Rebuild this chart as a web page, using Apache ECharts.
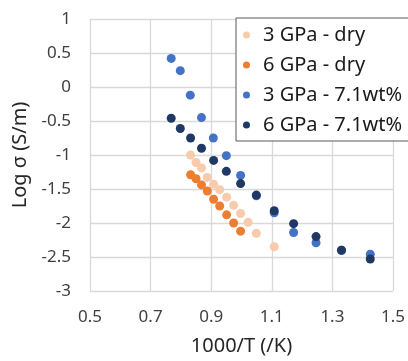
<!DOCTYPE html>
<html><head><meta charset="utf-8">
<script src="https://cdn.jsdelivr.net/npm/echarts@6/dist/echarts.min.js"></script>
<style>html,body{margin:0;padding:0;background:#fff}#c{width:408px;height:361px}</style>
</head><body><div id="c"></div>
<script>
const seriesNames = ['3 GPa - dry', '6 GPa - dry', '3 GPa - 7.1wt%', '6 GPa - 7.1wt%'];
const colors = ['#F8CBAD', '#ED7D31', '#4472C4', '#1F3864'];

const dry3X = [0.832, 0.850, 0.868, 0.887, 0.908, 0.928, 0.951, 0.974, 0.997, 1.022, 1.049, 1.108];
const dry3Y = [-1.00, -1.11, -1.19, -1.33, -1.43, -1.51, -1.62, -1.74, -1.86, -1.99, -2.15, -2.35];

const dry6X = [0.832, 0.850, 0.868, 0.887, 0.908, 0.928, 0.951, 0.974, 0.997];
const dry6Y = [-1.29, -1.35, -1.44, -1.53, -1.65, -1.75, -1.88, -2.00, -2.12];

const wet3X = [0.768, 0.798, 0.831, 0.868, 0.907, 0.950, 0.997, 1.049, 1.108, 1.172, 1.246, 1.330, 1.425];
const wet3Y = [0.42, 0.24, -0.12, -0.45, -0.75, -1.01, -1.30, -1.60, -1.85, -2.14, -2.29, -2.40, -2.46];

const wet6X = [0.768, 0.798, 0.832, 0.868, 0.908, 0.950, 0.997, 1.049, 1.108, 1.172, 1.246, 1.330, 1.425];
const wet6Y = [-0.46, -0.61, -0.75, -0.90, -1.08, -1.24, -1.42, -1.59, -1.82, -2.01, -2.20, -2.40, -2.53];

const xTicks = [0.5, 0.7, 0.9, 1.1, 1.3, 1.5];
const yTicks = [-3, -2.5, -2, -1.5, -1, -0.5, 0, 0.5, 1];

const xs = [dry3X, dry6X, wet3X, wet6X];
const ys = [dry3Y, dry6Y, wet3Y, wet6Y];

const font = 'Noto Sans';
const chart = echarts.init(document.getElementById('c'));
chart.setOption({
  animation: false,
  backgroundColor: '#fff',
  textStyle: {fontFamily: font},
  grid: {left: 90, right: 13, top: 19, bottom: 66},
  xAxis: {
    type: 'value', min: xTicks[0], max: xTicks[xTicks.length-1], interval: 0.2,
    name: '1000/T (/K)', nameLocation: 'middle', nameGap: 45,
    nameTextStyle: {fontSize: 20, color: '#262626', fontFamily: font},
    axisLine: {show: false}, axisTick: {show: false},
    axisLabel: {fontSize: 17, color: '#404040', margin: 18, fontFamily: font,
      formatter: v => { const t = xTicks.find(k => Math.abs(k - v) < 1e-6); return t === undefined ? '' : String(t); }},
    splitLine: {show: true, lineStyle: {color: '#d9d9d9', width: 1.3}}
  },
  yAxis: {
    type: 'value', min: -3, max: 1, interval: 0.5,
    name: 'Log σ (S/m)', nameLocation: 'middle', nameGap: 60, nameRotate: 90,
    nameTextStyle: {fontSize: 20, color: '#262626', fontFamily: font},
    axisLine: {show: false}, axisTick: {show: false},
    axisLabel: {fontSize: 17, color: '#404040', margin: 19, fontFamily: font,
      formatter: v => { const t = yTicks.find(k => Math.abs(k - v) < 1e-6); return t === undefined ? '' : String(t); }},
    splitLine: {show: true, lineStyle: {color: '#d9d9d9', width: 1.3}}
  },
  legend: {
    orient: 'vertical', left: 236, top: 18,
    data: seriesNames,
    icon: 'circle', itemWidth: 7, itemHeight: 7, itemGap: 10,
    padding: [7, 40, 6, 7],
    borderColor: '#595959', borderWidth: 1, backgroundColor: '#fff',
    textStyle: {fontSize: 20, color: '#1a1a1a', lineHeight: 20, padding: [0, 0, 0, 8], fontFamily: font}
  },
  series: seriesNames.map((n, i) => ({
    name: n, type: 'scatter', symbol: 'circle', symbolSize: 9,
    itemStyle: {color: colors[i], opacity: 1},
    data: xs[i].map((x, j) => [x, ys[i][j]]),
    z: 2 + i
  }))
});
</script></body></html>
